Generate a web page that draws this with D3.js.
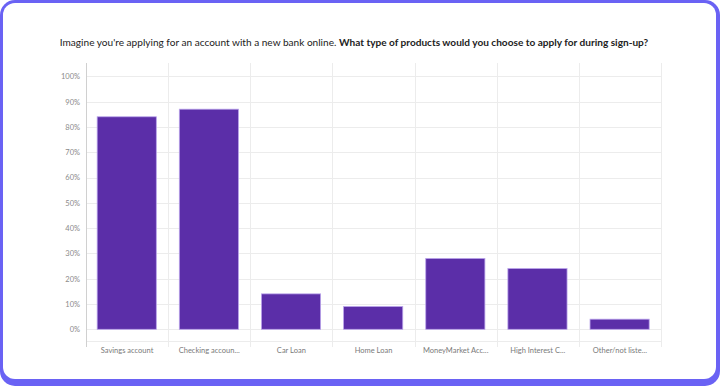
<!DOCTYPE html>
<html><head><meta charset="utf-8">
<script src="https://cdn.jsdelivr.net/npm/d3@7"></script>
<style>html,body{margin:0;padding:0;background:#fff;}svg{display:block;}</style>
</head><body>
<svg id="c" width="720" height="386"></svg>
<script>
const categories = ["Savings account","Checking accoun...","Car Loan","Home Loan","MoneyMarket Acc...","High Interest C...","Other/not liste..."];
const values = [84, 87, 14, 9, 28, 24, 4];
const yTicks = [0,10,20,30,40,50,60,70,80,90,100];
const titleNormal = "Imagine you're applying for an account with a new bank online. ";
const titleBold = "What type of products would you choose to apply for during sign-up?";

const svg = d3.select("#c");
const font = "Lato, 'Open Sans', sans-serif";

// card
svg.append("rect").attr("x",0).attr("y",0).attr("width",720).attr("height",386).attr("rx",15).attr("fill","#6a62f4");
svg.append("rect").attr("x",3).attr("y",3).attr("width",713).attr("height",376).attr("rx",12).attr("fill","#fff");

const L = 86, R = 661, T = 63, B = 347;
const y = d3.scaleLinear().domain([0,100]).range([329.3, 76.3]);
const x = d3.scaleBand().domain(categories).range([L, R]).paddingInner(0).paddingOuter(0);

// horizontal gridlines
svg.append("g").selectAll("line").data(yTicks).join("line")
  .attr("x1", L).attr("x2", R).attr("y1", d=>Math.round(y(d))+0.5).attr("y2", d=>Math.round(y(d))+0.5)
  .attr("stroke","#ececec").attr("stroke-width",1);
svg.append("line").attr("x1",L).attr("x2",R).attr("y1",341.5).attr("y2",341.5).attr("stroke","#ececec");

// vertical gridlines
const vx = categories.slice(1).map(c => x(c)).concat([R]);
svg.append("g").selectAll("line").data(vx).join("line")
  .attr("x1", d=>Math.round(d)+0.5).attr("x2", d=>Math.round(d)+0.5).attr("y1",T).attr("y2",B)
  .attr("stroke","#ececec");
svg.append("line").attr("x1",L+0.5).attr("x2",L+0.5).attr("y1",T).attr("y2",B).attr("stroke","#d0d0d0");

// y labels
const yAxis = d3.axisLeft(y).tickValues(yTicks).tickFormat(d=>d+"%").tickSize(0).tickPadding(6);
const ya = svg.append("g").attr("transform",`translate(${L},0)`).call(yAxis);
ya.select(".domain").remove();
ya.selectAll("text").attr("font-family",font).attr("font-size",7.5).attr("fill","#8a8a8a");

// bars
const bw = x.bandwidth()*0.72;
svg.append("g").selectAll("rect").data(values).join("rect")
  .attr("x",(d,i)=>x(categories[i]) + x.bandwidth()*0.13 + 0.5)
  .attr("y",d=>y(d))
  .attr("width",bw)
  .attr("height",d=>y(0)-y(d))
  .attr("fill","#5b2ea8").attr("stroke","#b9a2ea").attr("stroke-width",0.8);

// x labels
const xAxis = d3.axisBottom(x).tickSize(0).tickPadding(0);
const xa = svg.append("g").attr("transform",`translate(0,348)`).call(xAxis);
xa.select(".domain").remove();
xa.selectAll("text").attr("font-family",font).attr("font-size",7.5).attr("fill","#7a7a7a").attr("dy","0.71em");

// title
const t = svg.append("text").attr("x",354).attr("y",46).attr("text-anchor","middle")
  .attr("font-family",font).attr("font-size",11).attr("fill","#222");
t.append("tspan").text(titleNormal);
t.append("tspan").attr("font-weight","bold").text(titleBold);
const w = t.node().getComputedTextLength();
t.attr("font-size", 11*589/w);
</script>
</body></html>
